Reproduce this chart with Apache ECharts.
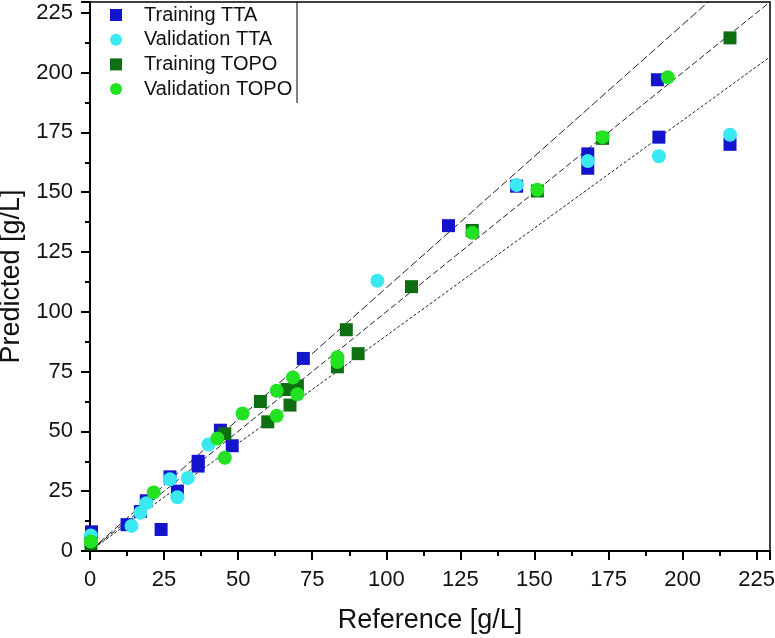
<!DOCTYPE html>
<html>
<head>
<meta charset="utf-8">
<script src="https://cdn.jsdelivr.net/npm/echarts@6/dist/echarts.min.js"></script>
<style>
  html, body { margin: 0; padding: 0; background: #fff; }
  #chart { width: 775px; height: 638px; }
</style>
</head>
<body>
<div id="chart"></div>
<script>
// point data, [reference, predicted] in g/L
var trainingTTA = [
  [0.5, 8], [12.5, 11], [17, 16.5], [19, 21], [24, 9], [27, 31], [29.5, 25],
  [36.5, 37.5], [36.5, 35.5], [44, 50.5], [48, 44], [72, 80.5], [121, 136],
  [144, 152.5], [168, 166], [168, 160], [191.5, 197], [192, 173], [216, 170]
];
var validationTTA = [
  [0.3, 6.5], [14, 10.5], [17, 16], [19, 20], [27, 30], [29.5, 22.5], [33, 30.5],
  [40, 44.5], [97, 113], [144, 153], [168, 163], [192, 165], [216, 174]
];
var trainingTOPO = [
  [0.3, 3], [45.5, 49], [57.5, 62.5], [60, 54], [66.5, 67.5], [67.5, 61], [70, 69],
  [83.5, 77], [86.5, 92.5], [90.5, 82.5], [108.5, 110.5], [129, 134], [151, 150.5],
  [173, 172.5], [216, 214.5]
];
var validationTOPO = [
  [0.3, 4], [21.5, 24.5], [43, 47], [45.5, 39], [51.5, 57.5], [63, 56.5], [63, 67],
  [68.5, 72.5], [70, 65.5], [83.5, 81], [83.5, 79], [129, 133], [151, 151],
  [173, 173], [195, 198]
];
var seriesNames = ["Training TTA", "Validation TTA", "Training TOPO", "Validation TOPO"];
// +/-10% guide lines and the 1:1 line
var guideSlopes = [1.1, 1.0, 0.9];
var guideDash = [[8, 3], [6, 3], [3, 2]];
var axisMax = 229.5;

var chart = echarts.init(document.getElementById("chart"));
var fontFam = "'Liberation Sans', Arial, sans-serif";

function tickFmt(v) {
  return v % 25 === 0 ? String(v) : "";
}

var guideSeries = guideSlopes.map(function (s, i) {
  return {
    type: "line",
    data: [[0, 0], [axisMax, s * axisMax]],
    symbol: "none",
    clip: true,
    silent: true,
    z: 1,
    lineStyle: { color: "#222", width: 1, type: guideDash[i] }
  };
});

var colors = ["#1414cc", "#3ae8f2", "#0e6e12", "#22e222"];
var symbols = ["rect", "circle", "rect", "circle"];
var sizes = [13, 14, 13, 14];
var allData = [trainingTTA, validationTTA, trainingTOPO, validationTOPO];

var scatterSeries = allData.map(function (d, i) {
  return {
    name: seriesNames[i],
    type: "scatter",
    data: d,
    symbol: symbols[i],
    symbolSize: sizes[i],
    z: 3,
    itemStyle: { color: colors[i], opacity: 1 }
  };
});

var option = {
  animation: false,
  backgroundColor: "#fff",
  grid: {
    left: 90, right: 5, top: 2, bottom: 87,
    outerBoundsMode: "none",
    containLabel: false,
    show: true, borderColor: "#000", borderWidth: 1.5
  },
  legend: {
    orient: "vertical",
    left: 105,
    top: 0,
    itemWidth: 12,
    itemHeight: 12,
    itemGap: 4.7,
    data: seriesNames.map(function (n, i) {
      return { name: n, icon: symbols[i] === "rect" ? "rect" : "circle" };
    }),
    textStyle: {
      fontFamily: fontFam, fontSize: 20, color: "#111",
      lineHeight: 20, padding: [0, 0, 0, 17]
    }
  },
  graphic: [{
    type: "line",
    shape: { x1: 297, y1: 2, x2: 297, y2: 103 },
    style: { stroke: "#000", lineWidth: 1 }
  }],
  xAxis: {
    type: "value",
    min: 0, max: axisMax, interval: 25,
    name: "Reference [g/L]",
    nameLocation: "middle",
    nameGap: 56,
    nameTextStyle: { fontFamily: fontFam, fontSize: 27, color: "#111" },
    axisLine: { onZero: false, lineStyle: { color: "#000", width: 2 } },
    axisTick: { inside: false, length: 9, lineStyle: { color: "#000", width: 2 } },
    minorTick: { show: true, splitNumber: 2, length: 5, lineStyle: { color: "#000", width: 2 } },
    axisLabel: { formatter: tickFmt, fontFamily: fontFam, fontSize: 22, color: "#111", margin: 18 },
    splitLine: { show: false }
  },
  yAxis: {
    type: "value",
    min: 0, max: axisMax, interval: 25,
    name: "Predicted [g/L]",
    nameLocation: "middle",
    nameGap: 64,
    nameTextStyle: { fontFamily: fontFam, fontSize: 27, color: "#111" },
    axisLine: { onZero: false, lineStyle: { color: "#000", width: 2 } },
    axisTick: { inside: false, length: 9, lineStyle: { color: "#000", width: 2 } },
    minorTick: { show: true, splitNumber: 2, length: 5, lineStyle: { color: "#000", width: 2 } },
    axisLabel: { formatter: tickFmt, fontFamily: fontFam, fontSize: 22, color: "#111", margin: 17 },
    splitLine: { show: false }
  },
  series: guideSeries.concat(scatterSeries)
};

chart.setOption(option);
</script>
</body>
</html>
